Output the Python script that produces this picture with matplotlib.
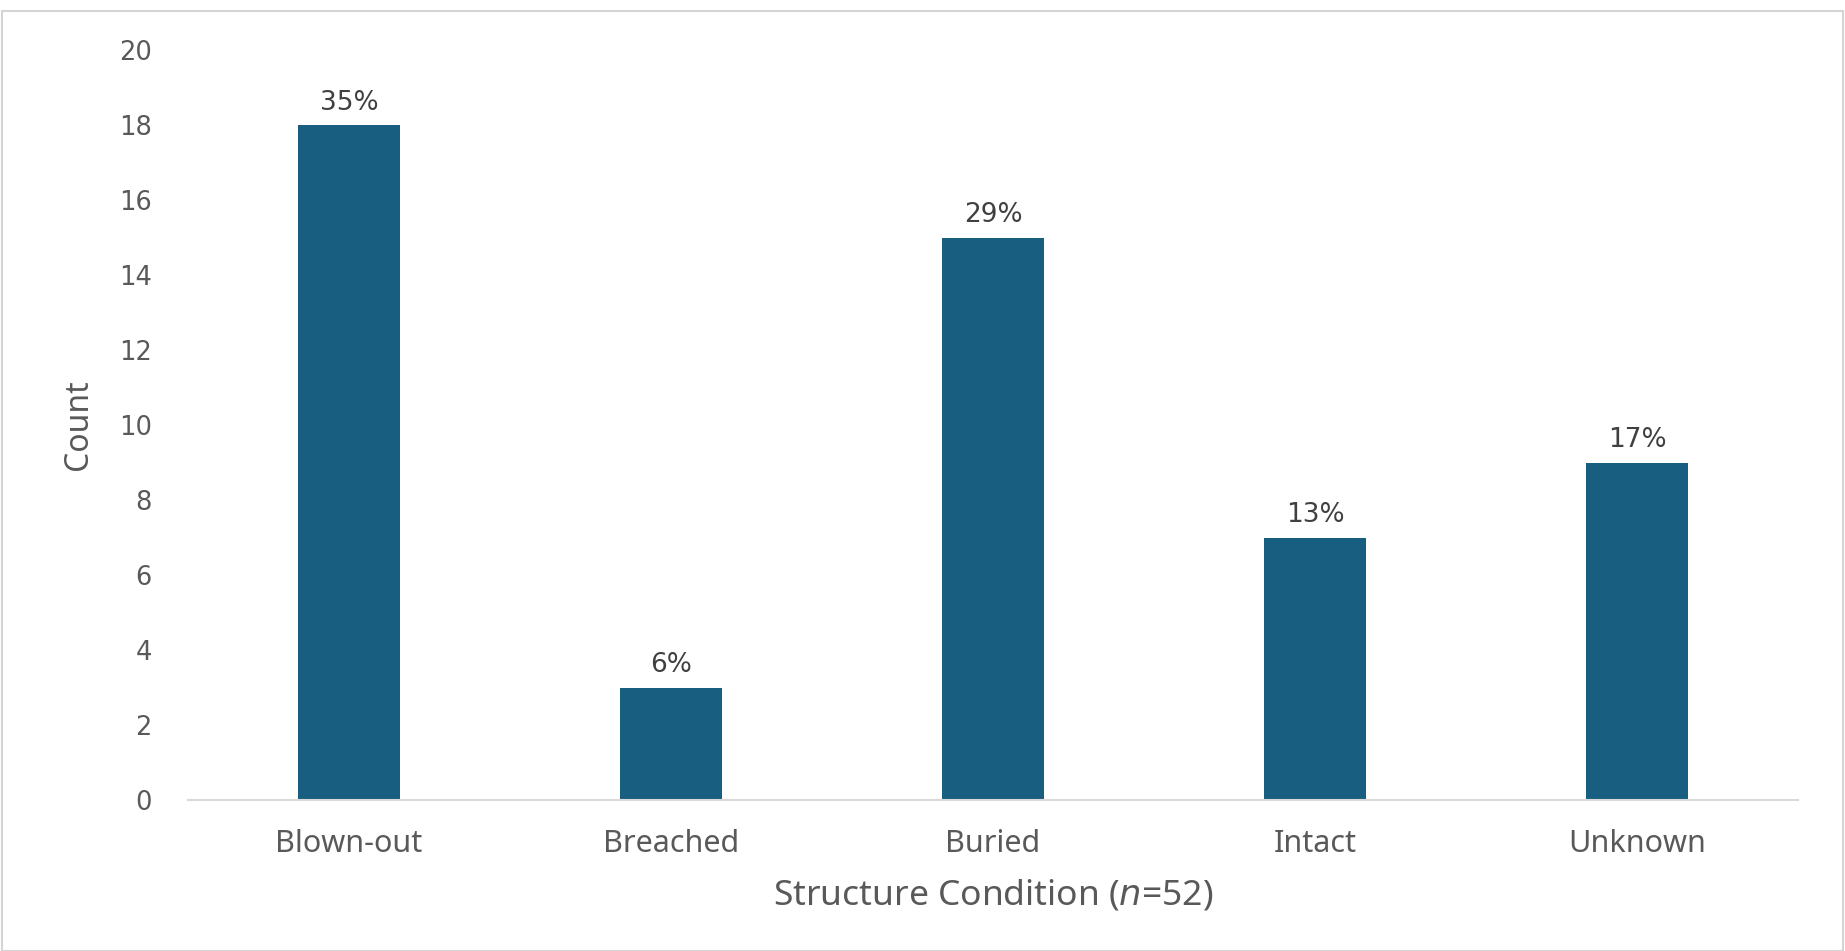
import matplotlib
matplotlib.use("Agg")
import matplotlib.pyplot as plt
from matplotlib.patches import Rectangle

categories = ["Blown-out", "Breached", "Buried", "Intact", "Unknown"]
counts = [18, 3, 15, 7, 9]
percent_labels = ["35%", "6%", "29%", "13%", "17%"]
y_ticks = [0, 2, 4, 6, 8, 10, 12, 14, 16, 18, 20]

BAR_COLOR = "#175E80"
TICK_COLOR = "#595959"
LABEL_COLOR = "#404040"

W, H = 1845, 951
fig = plt.figure(figsize=(W / 100, H / 100), dpi=100)
fig.patch.set_facecolor("white")

# chart frame
fig.patches.append(Rectangle((2 / W, 0.0), (1841) / W, (H - 11) / H,
                             transform=fig.transFigure, fill=False,
                             edgecolor="#D4D4D4", linewidth=1.5, zorder=0))

ax = fig.add_axes([188 / W, 1 - 800 / H, (1798 - 188) / W, 750 / H])
x = list(range(len(categories)))
bars = ax.bar(x, counts, width=0.314, color=BAR_COLOR, zorder=2)
ax.set_xlim(-0.5, len(categories) - 0.5)
ax.set_ylim(0, 20)
ax.set_yticks(y_ticks)
ax.set_yticklabels([str(t) for t in y_ticks], fontfamily="DejaVu Sans",
                   fontsize=18.5, color=TICK_COLOR)
ax.set_xticks(x)
ax.set_xticklabels(categories, fontfamily="Noto Sans", fontsize=22, color=TICK_COLOR)
ax.tick_params(axis="both", length=0)
ax.tick_params(axis="y", pad=26)
ax.tick_params(axis="x", pad=21)

for side in ("top", "right", "left"):
    ax.spines[side].set_visible(False)
ax.spines["bottom"].set_color("#D9D9D9")
ax.spines["bottom"].set_linewidth(1.5)

for b, lab in zip(bars, percent_labels):
    ax.annotate(lab, (b.get_x() + b.get_width() / 2, b.get_height()),
                xytext=(0, 11), textcoords="offset points", ha="center", va="baseline",
                fontfamily="DejaVu Sans", fontsize=19, color=LABEL_COLOR)

ax.set_ylabel("Count", fontfamily="Noto Sans", fontsize=23, color=TICK_COLOR, labelpad=17)
ax.set_xlabel("Structure Condition ($\\it{n}$=52)", fontfamily="Noto Sans",
              fontsize=25.5, color=TICK_COLOR, labelpad=13)

fig.savefig("out.png", dpi=100, facecolor="white")
